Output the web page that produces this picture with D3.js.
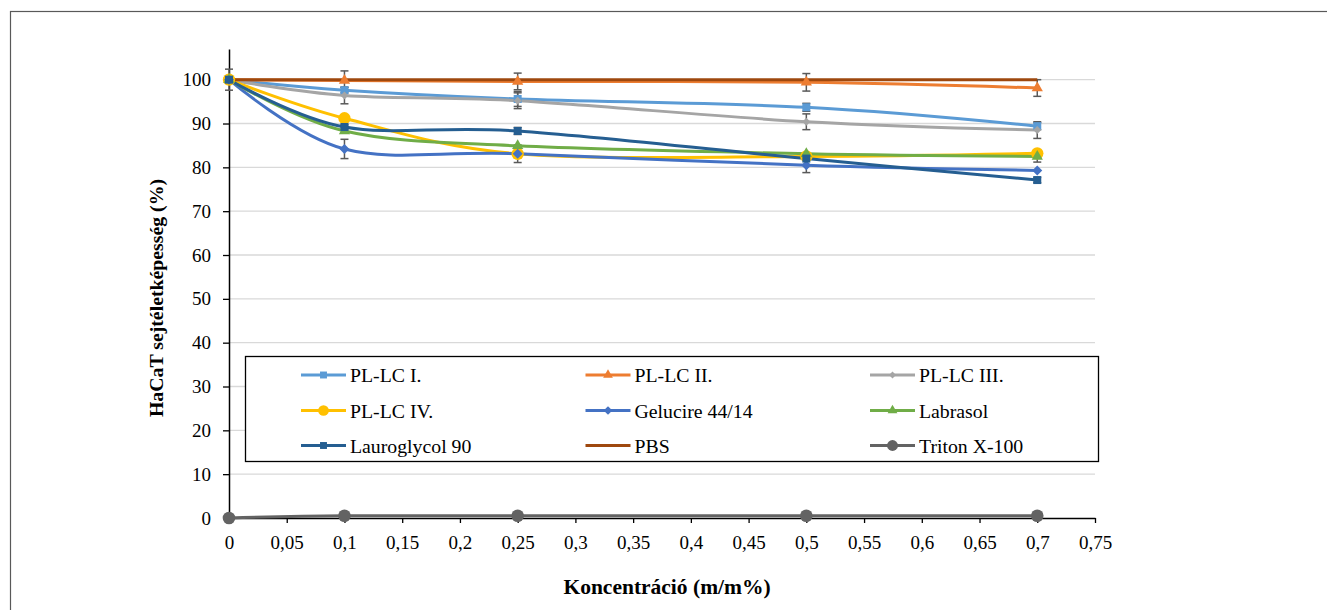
<!DOCTYPE html>
<html>
<head>
<meta charset="utf-8">
<script src="https://cdn.jsdelivr.net/npm/d3@7"></script>
<style>
  body { margin: 0; background: #fff; }
</style>
</head>
<body>
<svg id="chart" width="1327" height="610"></svg>
<script>
// data
const concentrations = [0, 0.1, 0.25, 0.5, 0.7];
const xTicks = [0, 0.05, 0.1, 0.15, 0.2, 0.25, 0.3, 0.35, 0.4, 0.45, 0.5, 0.55, 0.6, 0.65, 0.7, 0.75];
const yTicks = [0, 10, 20, 30, 40, 50, 60, 70, 80, 90, 100];

const seriesNames = ["PL-LC I.", "PL-LC II.", "PL-LC III.", "PL-LC IV.", "Gelucire 44/14", "Labrasol", "Lauroglycol 90", "PBS", "Triton X-100"];
const plLc1 = [100, 97.6, 95.6, 93.7, 89.4];
const plLc2 = [100, 99.8, 99.6, 99.4, 98.1];
const plLc3 = [100, 96.4, 95.2, 90.4, 88.5];
const plLc4 = [100, 91.2, 83.1, 82.5, 83.2];
const gelucire = [100, 84.2, 83.1, 80.5, 79.3];
const labrasol = [100, 88.3, 84.9, 83.1, 82.5];
const lauroglycol = [100, 89.2, 88.3, 82.0, 77.1];
const pbs = [100, 100, 100, 100, 100];
const triton = [0, 0.5, 0.5, 0.5, 0.5];

// standard deviations (error bars)
const plLc1Err = [2.4, 0.6, 1.7, 0.9, 0.8];
const plLc2Err = [0, 2.2, 1.9, 2.0, 1.9];
const plLc3Err = [0, 1.9, 1.8, 1.8, 1.9];
const plLc4Err = [0, 0, 0, 0, 0];
const gelucireErr = [0, 2.2, 2.0, 1.7, 0];
const labrasolErr = [0, 0, 0, 0, 1.3];
const lauroglycolErr = [0, 0.5, 0.8, 0, 0.6];
const pbsErr = [0, 0, 0, 0, 0];
const tritonErr = [0, 0, 0, 0, 0];

const seriesValues = [plLc1, plLc2, plLc3, plLc4, gelucire, labrasol, lauroglycol, pbs, triton];
const seriesErrors = [plLc1Err, plLc2Err, plLc3Err, plLc4Err, gelucireErr, labrasolErr, lauroglycolErr, pbsErr, tritonErr];
const seriesColors = ["#5B9BD5", "#ED7D31", "#A5A5A5", "#FFC000", "#4472C4", "#70AD47", "#255E91", "#9E480E", "#636363"];
const seriesMarkers = ["square", "triangle", "diamondSmall", "circle", "diamond", "triangle", "square", "none", "circleBig"];

const LEFT = 229, RIGHT = 1095, BOTTOM = 518, TOP = 49;
const FONT = "'Times New Roman', Times, Tinos, 'Liberation Serif', 'Noto Serif', 'DejaVu Serif', serif";

const svg = d3.select("#chart").style("font-family", FONT);

// outer chart frame (runs past the window on right and bottom)
svg.append("rect")
  .attr("x", 10.5).attr("y", 11.5)
  .attr("width", 1330).attr("height", 620)
  .attr("fill", "none").attr("stroke", "#595959").attr("stroke-width", 1.2);

const x = d3.scaleLinear().domain([0, 0.75]).range([LEFT, RIGHT]);
const y = d3.scaleLinear().domain([0, 107]).range([BOTTOM, TOP]);

// gridlines
svg.append("g").selectAll("line")
  .data(yTicks.filter(d => d > 0))
  .enter().append("line")
  .attr("x1", LEFT).attr("x2", RIGHT)
  .attr("y1", d => y(d)).attr("y2", d => y(d))
  .attr("stroke", "#D9D9D9").attr("stroke-width", 1.3);

const fmt = d => String(d).replace(".", ",");

// axes
const yAxis = svg.append("g")
  .attr("transform", "translate(" + LEFT + ",0)")
  .call(d3.axisLeft(y).tickValues(yTicks).tickSize(6).tickSizeOuter(0).tickPadding(12).tickFormat(d => d));
const xAxis = svg.append("g")
  .attr("transform", "translate(0," + BOTTOM + ")")
  .call(d3.axisBottom(x).tickValues(xTicks).tickSize(5).tickSizeOuter(0).tickPadding(13).tickFormat(fmt));

[yAxis, xAxis].forEach(a => {
  a.attr("font-family", null).attr("font-size", null);
  a.select(".domain").attr("stroke", "#000").attr("stroke-width", 1.5);
  a.selectAll(".tick line").attr("stroke", "#000").attr("stroke-width", 1.3);
  a.selectAll("text").attr("fill", "#000")
    .style("font-family", FONT).style("font-size", "19px");
});

// axis titles
svg.append("text")
  .attr("x", 667).attr("y", 594)
  .attr("text-anchor", "middle")
  .style("font-family", FONT)
  .style("font-size", "21.5px").style("font-weight", "bold")
  .text("Koncentráció (m/m%)");

svg.append("text")
  .attr("transform", "translate(163,298) rotate(-90)")
  .attr("text-anchor", "middle")
  .style("font-family", FONT)
  .style("font-size", "19.8px").style("font-weight", "bold")
  .text("HaCaT sejtéletképesség (%)");

// marker helper
function drawMarker(g, type, color, cx, cy, scale) {
  scale = scale || 1;
  if (type === "none") return;
  let sym, size, rot = 0;
  if (type === "square") { sym = d3.symbolSquare; size = 64; }
  else if (type === "triangle") { sym = d3.symbolTriangle; size = 55; }
  else if (type === "diamond") { sym = d3.symbolSquare; size = 50; rot = 45; }
  else if (type === "diamondSmall") { sym = d3.symbolSquare; size = 32; rot = 45; }
  else if (type === "circle") { sym = d3.symbolCircle; size = 120; }
  else if (type === "circleBig") { sym = d3.symbolCircle; size = 125; }
  g.append("path")
    .attr("d", d3.symbol().type(sym).size(size * scale)())
    .attr("transform", "translate(" + cx + "," + cy + ") rotate(" + rot + ")")
    .attr("fill", color);
}

const line = d3.line()
  .x(d => x(d[0]))
  .y(d => y(d[1]))
  .curve(d3.curveCardinal.tension(0));

const plot = svg.append("g");

// error bars
seriesValues.forEach((vals, i) => {
  const errs = seriesErrors[i];
  concentrations.forEach((c, j) => {
    if (!errs[j]) return;
    const px = x(c), y1 = y(vals[j] + errs[j]), y2 = y(vals[j] - errs[j]);
    const eb = plot.append("g").attr("stroke", "#595959").attr("stroke-width", 1.5);
    eb.append("line").attr("x1", px).attr("x2", px).attr("y1", y1).attr("y2", y2);
    eb.append("line").attr("x1", px - 4).attr("x2", px + 4).attr("y1", y1).attr("y2", y1);
    eb.append("line").attr("x1", px - 4).attr("x2", px + 4).attr("y1", y2).attr("y2", y2);
  });
});

// lines
seriesValues.forEach((vals, i) => {
  plot.append("path")
    .datum(concentrations.map((c, j) => [c, vals[j]]))
    .attr("d", line)
    .attr("fill", "none")
    .attr("stroke", seriesColors[i])
    .attr("stroke-width", 3)
    .attr("stroke-linejoin", "round");
});

// markers
seriesValues.forEach((vals, i) => {
  concentrations.forEach((c, j) => {
    drawMarker(plot, seriesMarkers[i], seriesColors[i], x(c), y(vals[j]));
  });
});

// legend
const legend = svg.append("g");
legend.append("rect")
  .attr("x", 245.5).attr("y", 356.5)
  .attr("width", 853).attr("height", 105)
  .attr("fill", "#fff").attr("stroke", "#000").attr("stroke-width", 1.3);

const colX = [301, 585.5, 870];
const rowY = [375, 410.5, 445.5];
seriesNames.forEach((name, i) => {
  const lx = colX[i % 3], ly = rowY[Math.floor(i / 3)];
  legend.append("line")
    .attr("x1", lx).attr("x2", lx + 45)
    .attr("y1", ly).attr("y2", ly)
    .attr("stroke", seriesColors[i]).attr("stroke-width", 3);
  drawMarker(legend, seriesMarkers[i], seriesColors[i], lx + 22.5, ly, 0.75);
  legend.append("text")
    .attr("x", lx + 49).attr("y", ly + 7)
    .style("font-family", FONT)
    .style("font-size", "19.8px")
    .text(name);
});
</script>
</body>
</html>
